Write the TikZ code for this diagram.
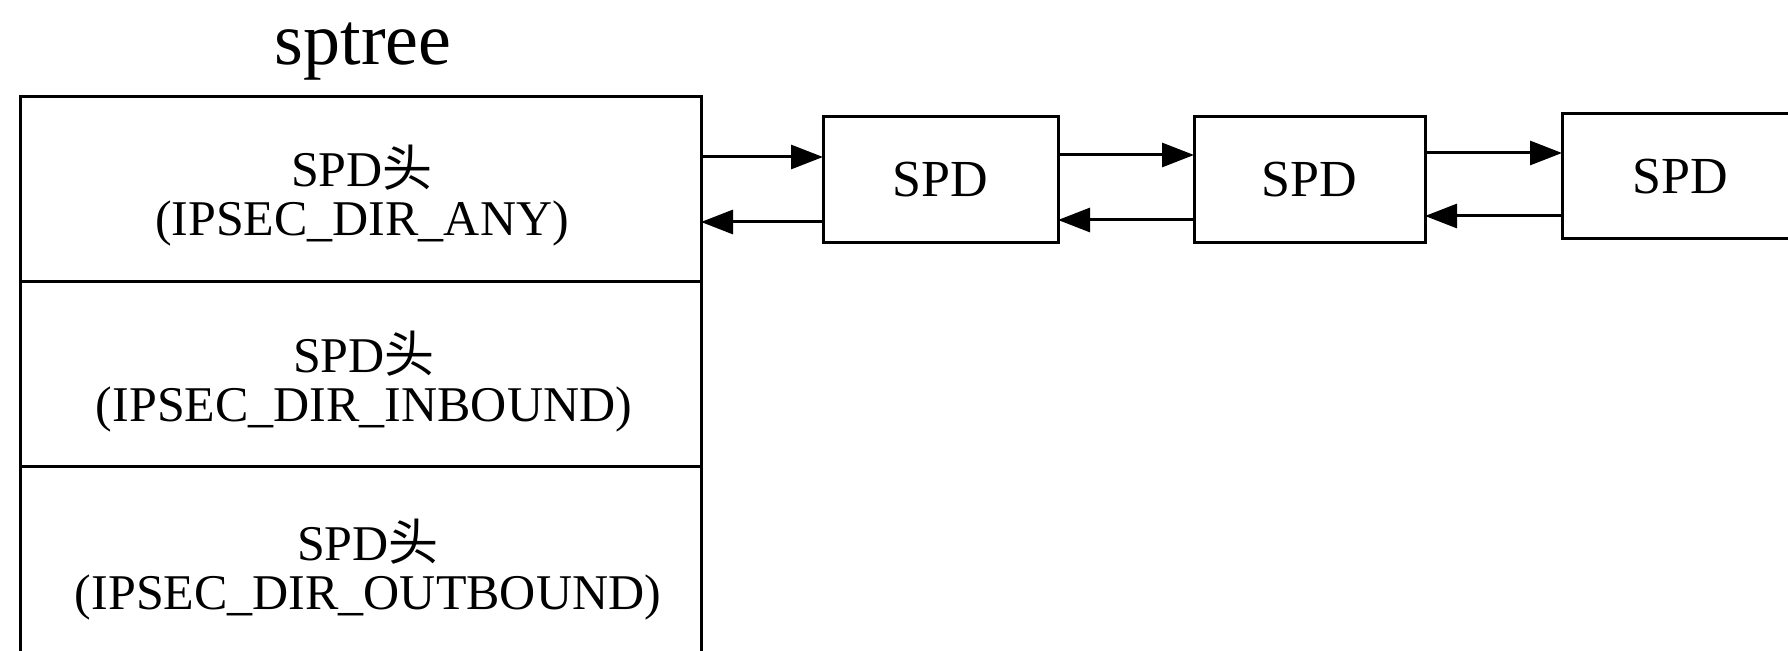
\documentclass[tikz,border=0pt]{standalone}
\usepackage{fontspec}
\setmainfont{Liberation Serif}
\newfontfamily\cjk{Noto Sans CJK SC}
\usetikzlibrary{arrows.meta}
\begin{document}
\begin{tikzpicture}[x=0.5pt,y=-0.5pt,
  rowbox/.style={draw,line width=1.5pt,inner sep=0pt,outer sep=0pt,minimum width=340.5pt},
  rowtext/.style={inner sep=0pt,align=center,font=\fontsize{25}{24.5}\selectfont},
  spdbox/.style={draw,line width=1.5pt,inner sep=0pt,outer sep=0pt,minimum height=63pt,
    font=\fontsize{26}{28}\selectfont},
  arr/.style={line width=1.5pt,-{Triangle[length=16pt,width=12pt]}}]
\useasboundingbox (0,0) rectangle (1788,651);
\clip (0,0) rectangle (1788,651);
\node (title) at (363,52) {\fontsize{37}{40}\selectfont sptree};
\node[rowbox,minimum height=92.5pt] (row1) at (360.5,189.5) {};
\node[rowbox,minimum height=92.5pt] (row2) at (360.5,374.5) {};
\node[rowbox,minimum height=101.5pt] (row3) at (360.5,568.5) {};
\node[rowtext] (row1t) at (362,196) {SPD{\cjk 头}\\(IPSEC\_DIR\_ANY)};
\node[rowtext] (row2t) at (364,382) {SPD{\cjk 头}\\(IPSEC\_DIR\_INBOUND)};
\node[rowtext] (row3t) at (368,570) {SPD{\cjk 头}\\(IPSEC\_DIR\_OUTBOUND)};
\node[spdbox,minimum width=117.5pt] (spd1) at (940.5,180) {SPD};
\node[spdbox,minimum width=115.5pt] (spd2) at (1309.5,180) {SPD};
\node[spdbox,minimum width=118pt,minimum height=62.5pt] (spd3) at (1680,176.5) {SPD};
\draw[arr] (row1.east |- 0,157) -- (spd1.west |- 0,157);
\draw[arr] (spd1.west |- 0,222) -- (row1.east |- 0,222);
\draw[arr] (spd1.east |- 0,155) -- (spd2.west |- 0,155);
\draw[arr] (spd2.west |- 0,220) -- (spd1.east |- 0,220);
\draw[arr] (spd2.east |- 0,153) -- (spd3.west |- 0,153);
\draw[arr] (spd3.west |- 0,216) -- (spd2.east |- 0,216);
\end{tikzpicture}
\end{document}
